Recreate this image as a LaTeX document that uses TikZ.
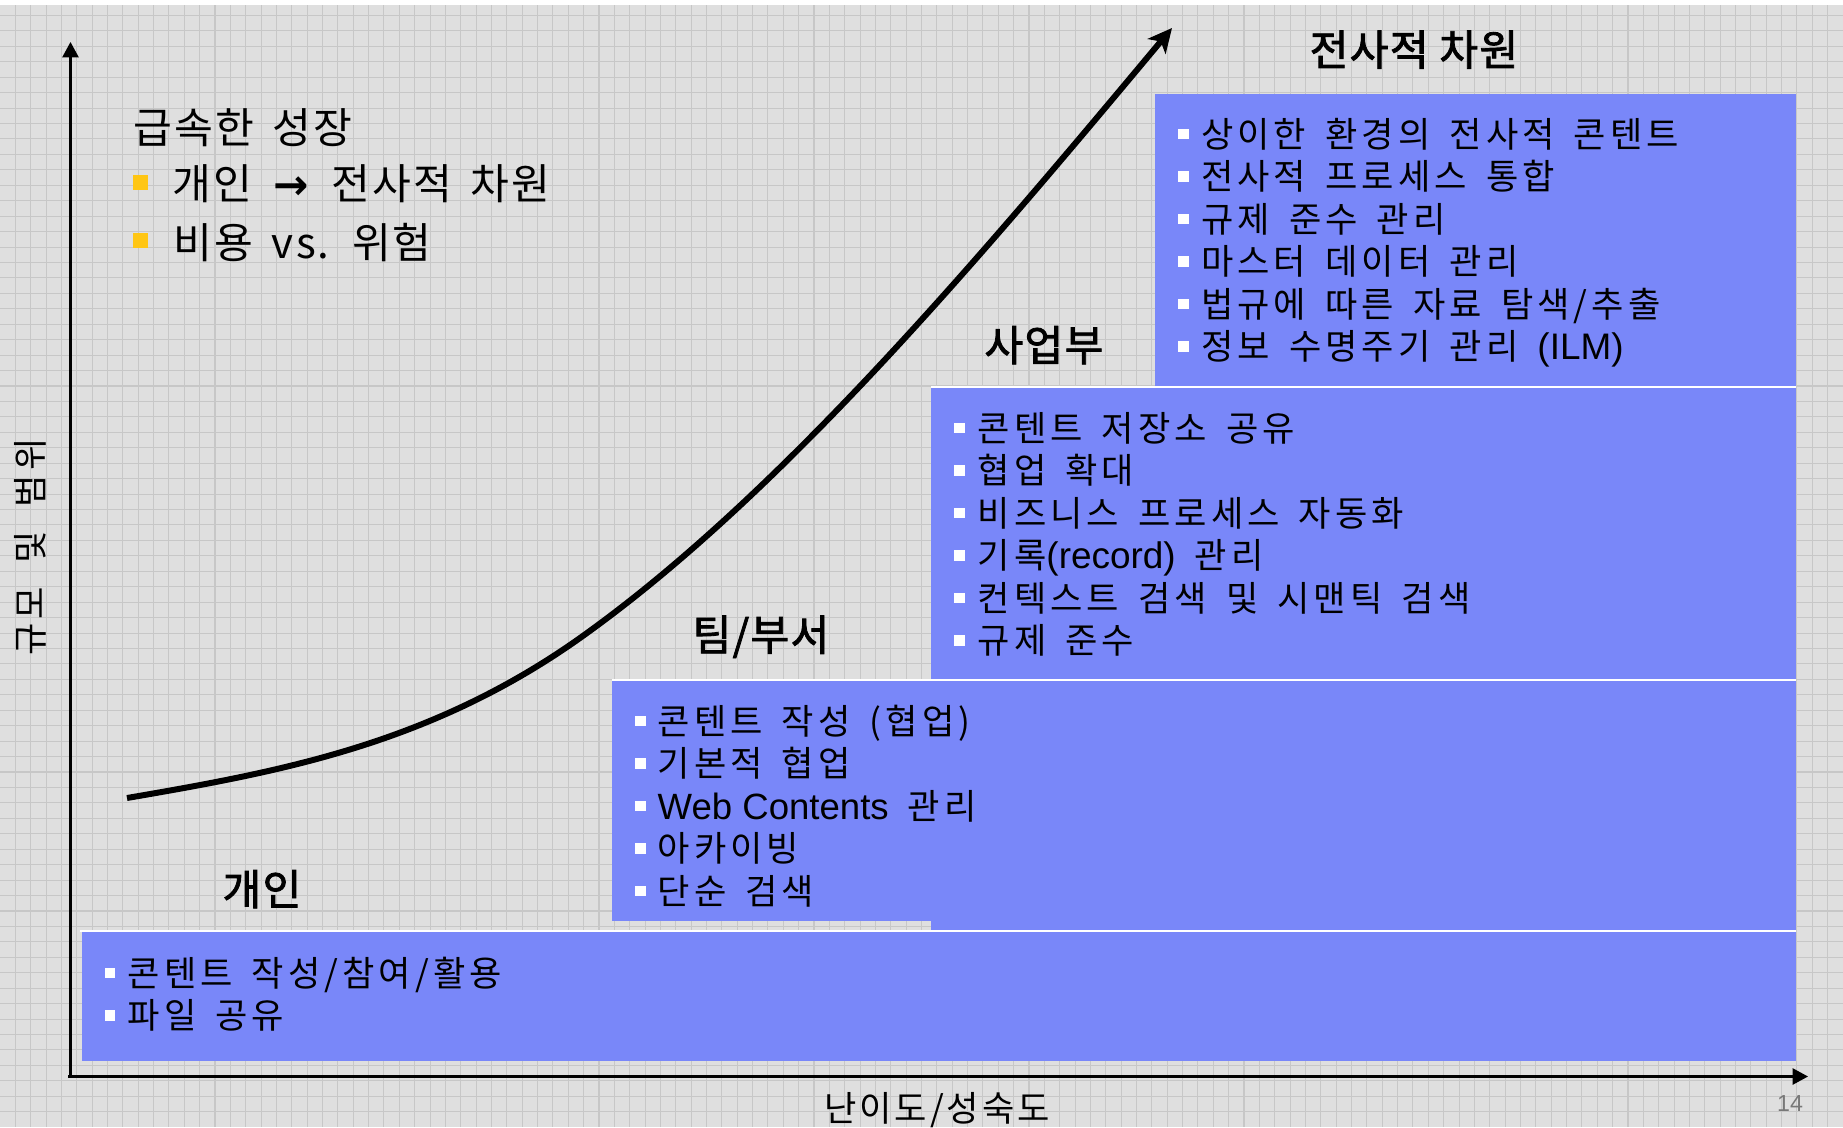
\documentclass[tikz,border=0pt]{standalone}
\usepackage{fontspec}
\setmainfont{Noto Sans CJK KR}[LetterSpace=11.5,WordSpace=1.6]
\newfontfamily\headf{Noto Sans CJK KR}[LetterSpace=5,WordSpace=1.6]
\newfontfamily\lblf{Noto Sans CJK KR}[LetterSpace=3,FakeBold=2]
\newfontfamily\xlblf{Noto Sans CJK KR}[LetterSpace=8.5]
\newfontfamily\ylblf{Noto Sans CJK KR}[LetterSpace=11.5,WordSpace=2]
\newfontfamily\arialf{Liberation Sans}
\newfontfamily\arrowf{DejaVu Sans}
\usetikzlibrary{arrows.meta}
\definecolor{bgc}{RGB}{223,223,223}
\definecolor{gridc}{RGB}{199,199,199}
\definecolor{boxc}{RGB}{121,135,249}
\definecolor{bulc}{RGB}{255,198,20}
\definecolor{numc}{RGB}{120,120,120}
\tikzset{
  gridline/.style={gridc, line width=0.3pt},
  stagebox/.style={fill=boxc},
  topedge/.style={white, line width=0.6pt},
  axisline/.style={line width=0.65pt, -{Triangle[length=4.4pt,width=4.6pt]}},
  growth/.style={line width=1.7pt, -{Stealth[length=6.8pt,width=6.6pt,inset=1.8pt]}},
  boxtxt/.style={anchor=base west, inner sep=0pt, font=\fontsize{10}{12}\selectfont},
  wbul/.style={fill=white, inner sep=0pt, minimum size=3.1pt},
  ybul/.style={fill=bulc, inner sep=0pt, minimum size=4.3pt},
  headtxt/.style={anchor=base west, inner sep=0pt, font=\headf\fontsize{12}{14}\selectfont},
  stagelbl/.style={anchor=base, inner sep=0pt, font=\lblf\fontsize{12}{14}\selectfont},
  axislbl/.style={anchor=base, inner sep=0pt, font=\xlblf\fontsize{10}{12}\selectfont}
}
\newcommand\myitem[5]{%
  \node[wbul] (#1b) at (#2,#4+1) {};
  \node[boxtxt] (#1) at (#3,#4+14) {#5};
}
\begin{document}
\begin{tikzpicture}[x=0.01cm,y=-0.01cm]
\useasboundingbox (0,0) rectangle (1843,1127);
% background and grid
\fill[bgc] (0,0) rectangle (1843,1127);
\foreach \i in {1,...,119} {\draw[gridline] (\i*15.358,5) -- (\i*15.358,1127);}
\foreach \j in {1,...,72} {\draw[gridline] (0,\j*15.44) -- (1843,\j*15.44);}
\fill[white] (0,0) rectangle (1843,5);

% stacked stage boxes
\fill[stagebox] (1155,94) rectangle (1796,400);
\fill[stagebox] (931,387) rectangle (1796,931);
\draw[topedge] (931,387) -- (1796,387);
\fill[stagebox] (612,680) rectangle (1796,921);
\draw[topedge] (612,680) -- (1796,680);
\fill[stagebox] (82,931) rectangle (1796,1061);
\draw[topedge] (80,931) -- (1796,931);

% axes
\coordinate (O) at (70.5,1076.5);
\coordinate (ytop) at (70.5,42);
\coordinate (xend) at (1808,1076.5);
\draw[axisline] (O) -- (ytop);
\draw[axisline] (68,1076.5) -- (xend);

% growth curve
\coordinate (c0) at (127,798);
\coordinate (c1) at (580,638);
\coordinate (c2) at (1172,28);
\draw[growth] (c0) .. controls (278,772) and (429,745) .. (c1)
                   .. controls (777,498) and (975,264) .. (c2);

% top-left block
\node[headtxt] (head) at (133,143) {급속한 성장};
\node[ybul] (yb1) at (140.8,182.5) {};
\node[headtxt] (h2) at (171.7,199) {개인\hspace{6pt}{\arrowf\bfseries →}\hspace{6.5pt}전사적 차원};
\node[ybul] (yb2) at (140.8,240.8) {};
\node[headtxt] (h3) at (173,258) {비용 vs. 위험};

% stage labels
\node[stagelbl] (lent) at (1414,65.5) {전사적 차원};
\node[stagelbl] (lbiz) at (1044,361) {사업부};
\node[stagelbl] (lteam) at (761,650.5) {팀/부서};
\node[stagelbl] (lind) at (262,905) {개인};

% box 4 items
\myitem{a1}{1183.8}{1200.5}{133}{상이한 환경의 전사적 콘텐트}
\myitem{a2}{1183.8}{1200.5}{175.5}{전사적 프로세스 통합}
\myitem{a3}{1183.8}{1200.5}{218}{규제 준수 관리}
\myitem{a4}{1183.8}{1200.5}{260.5}{마스터 데이터 관리}
\myitem{a5}{1183.8}{1200.5}{303}{법규에 따른 자료 탐색/추출}
\myitem{a6}{1183.8}{1200.5}{345.5}{정보 수명주기 관리 {\arialf\fontsize{10.5}{12}\selectfont (ILM)}}

% box 3 items
\myitem{c1}{959.5}{977}{427}{콘텐트 저장소 공유}
\myitem{c2}{959.5}{977}{469.5}{협업 확대}
\myitem{c3}{959.5}{977}{512}{비즈니스 프로세스 자동화}
\myitem{c4}{959.5}{977}{554.5}{기록{\arialf\fontsize{10.5}{12}\selectfont (record)} 관리}
\myitem{c5}{959.5}{977}{597}{컨텍스트 검색 및 시맨틱 검색}
\myitem{c6}{959.5}{977}{639.5}{규제 준수}

% box 2 items
\myitem{d1}{640.7}{657}{720}{콘텐트 작성 (협업)}
\myitem{d2}{640.7}{657}{762.5}{기본적 협업}
\myitem{d3}{640.7}{657}{805}{{\arialf\fontsize{10.4}{12}\selectfont Web Contents} 관리}
\myitem{d4}{640.7}{657}{847.5}{아카이빙}
\myitem{d5}{640.7}{657}{890}{단순 검색}

% box 1 items
\myitem{e1}{110}{127}{972}{콘텐트 작성/참여/활용}
\myitem{e2}{110}{127}{1014.5}{파일 공유}

% axis labels
\node[anchor=base, inner sep=0pt, font=\ylblf\fontsize{10}{12}\selectfont, rotate=90] (ylab) at (43,547) {규모 및 범위};
\node[axislbl] (xlab) at (937,1121.5) {난이도/성숙도};
\node[anchor=base, inner sep=0pt, text=numc, font=\arialf\fontsize{6.6}{8}\selectfont] (pnum) at (1790,1111.7) {14};
\end{tikzpicture}
\end{document}
